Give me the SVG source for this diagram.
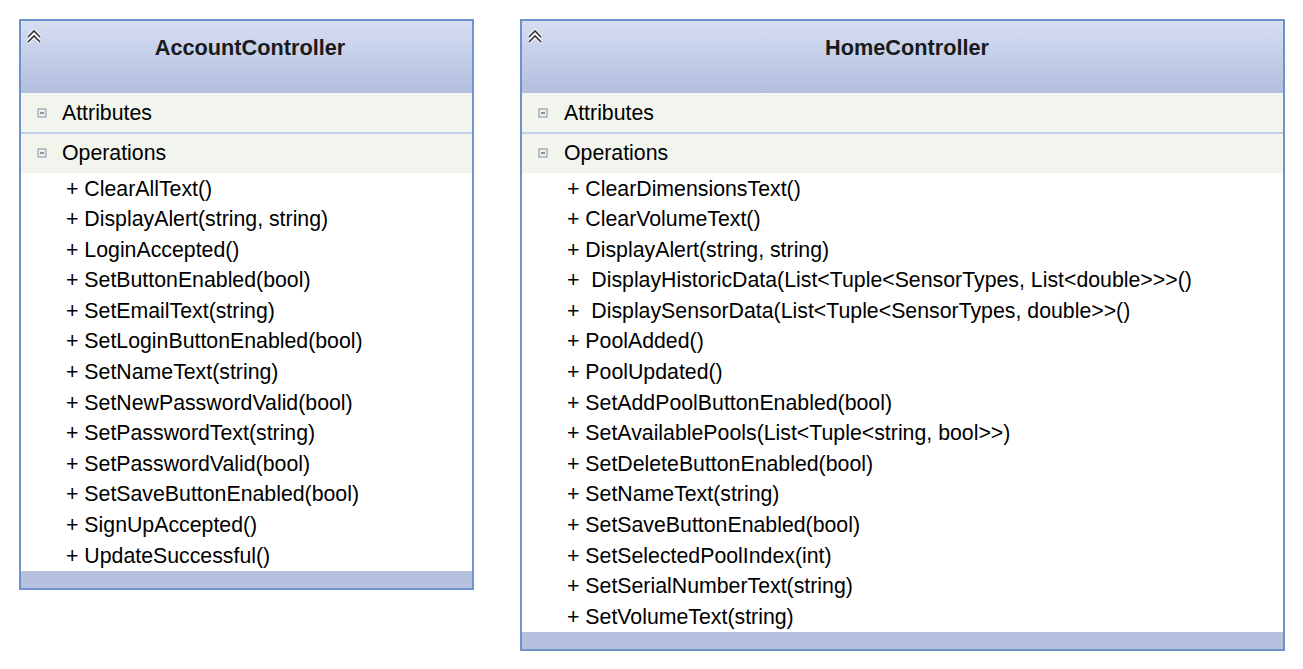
<svg xmlns="http://www.w3.org/2000/svg" width="1303" height="669" viewBox="0 0 1303 669">
<defs>
<linearGradient id="hdr" x1="0" y1="0" x2="0" y2="1">
<stop offset="0" stop-color="#d6def2"/>
<stop offset="1" stop-color="#b2bedf"/>
</linearGradient>
<g id="chev"><path d="M-6,2 L0,-4 L6,2 M-6,7 L0,1 L6,7" fill="none" stroke="#ffffff" stroke-width="3.6"/><path d="M-6,2 L0,-4 L6,2 M-6,7 L0,1 L6,7" fill="none" stroke="#333" stroke-width="1.6"/></g>
<g id="tog"><rect x="-4" y="-4" width="8" height="8" fill="#eceff3" stroke="#8a8f98" stroke-width="1"/><line x1="-2" y1="0" x2="2" y2="0" stroke="#333" stroke-width="1"/></g>
</defs>
<style>
.box{fill:#ffffff;stroke:#6f92cb;stroke-width:2}
.band{fill:#f2f5ee}
.sep{stroke:#b0c2e6;stroke-width:1.5}
.foot{fill:#b6c0df}
.t{font-family:"Liberation Sans",Arial,sans-serif;font-size:21.3px;fill:#000;white-space:pre}
.title{font-family:"Liberation Sans",Arial,sans-serif;font-size:21.7px;font-weight:bold;fill:#1a1a1a;text-anchor:middle}
</style>
<rect width="1303" height="669" fill="#ffffff"/>
<g id="AccountController">
<rect class="box" x="20" y="20" width="453" height="569"/>
<rect x="21" y="21" width="451" height="72" fill="url(#hdr)"/>
<rect class="band" x="21" y="93" width="451" height="80"/>
<line class="sep" x1="21" y1="133" x2="472" y2="133"/>
<rect class="foot" x="21" y="571" width="451" height="17"/>
<use href="#chev" x="34" y="35"/>
<text class="title" x="250" y="55">AccountController</text>
<use href="#tog" x="42" y="113"/>
<text class="t" x="62" y="120">Attributes</text>
<use href="#tog" x="42" y="153"/>
<text class="t" x="62" y="160">Operations</text>
<text class="t" x="66" y="196">+ ClearAllText()</text>
<text class="t" x="66" y="226">+ DisplayAlert(string, string)</text>
<text class="t" x="66" y="257">+ LoginAccepted()</text>
<text class="t" x="66" y="287">+ SetButtonEnabled(bool)</text>
<text class="t" x="66" y="318">+ SetEmailText(string)</text>
<text class="t" x="66" y="348">+ SetLoginButtonEnabled(bool)</text>
<text class="t" x="66" y="379">+ SetNameText(string)</text>
<text class="t" x="66" y="410">+ SetNewPasswordValid(bool)</text>
<text class="t" x="66" y="440">+ SetPasswordText(string)</text>
<text class="t" x="66" y="471">+ SetPasswordValid(bool)</text>
<text class="t" x="66" y="501">+ SetSaveButtonEnabled(bool)</text>
<text class="t" x="66" y="532">+ SignUpAccepted()</text>
<text class="t" x="66" y="563">+ UpdateSuccessful()</text>
</g>
<g id="HomeController">
<rect class="box" x="521" y="20" width="763" height="630"/>
<rect x="522" y="21" width="761" height="72" fill="url(#hdr)"/>
<rect class="band" x="522" y="93" width="761" height="80"/>
<line class="sep" x1="522" y1="133" x2="1283" y2="133"/>
<rect class="foot" x="522" y="632" width="761" height="17"/>
<use href="#chev" x="535" y="35"/>
<text class="title" x="907" y="55">HomeController</text>
<use href="#tog" x="543" y="113"/>
<text class="t" x="564" y="120">Attributes</text>
<use href="#tog" x="543" y="153"/>
<text class="t" x="564" y="160">Operations</text>
<text class="t" x="567" y="196">+ ClearDimensionsText()</text>
<text class="t" x="567" y="226">+ ClearVolumeText()</text>
<text class="t" x="567" y="257">+ DisplayAlert(string, string)</text>
<text class="t" x="567" y="287">+  DisplayHistoricData(List&lt;Tuple&lt;SensorTypes, List&lt;double&gt;&gt;&gt;()</text>
<text class="t" x="567" y="318">+  DisplaySensorData(List&lt;Tuple&lt;SensorTypes, double&gt;&gt;()</text>
<text class="t" x="567" y="348">+ PoolAdded()</text>
<text class="t" x="567" y="379">+ PoolUpdated()</text>
<text class="t" x="567" y="410">+ SetAddPoolButtonEnabled(bool)</text>
<text class="t" x="567" y="440">+ SetAvailablePools(List&lt;Tuple&lt;string, bool&gt;&gt;)</text>
<text class="t" x="567" y="471">+ SetDeleteButtonEnabled(bool)</text>
<text class="t" x="567" y="501">+ SetNameText(string)</text>
<text class="t" x="567" y="532">+ SetSaveButtonEnabled(bool)</text>
<text class="t" x="567" y="563">+ SetSelectedPoolIndex(int)</text>
<text class="t" x="567" y="593">+ SetSerialNumberText(string)</text>
<text class="t" x="567" y="624">+ SetVolumeText(string)</text>
</g>
<g id="connectors"/>
</svg>
